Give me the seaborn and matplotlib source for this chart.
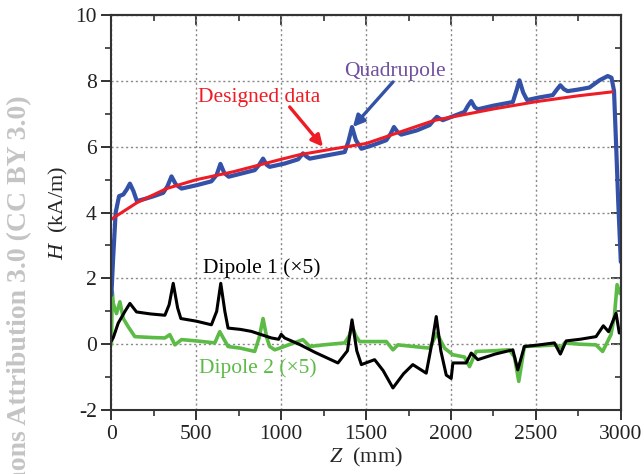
import numpy as np
import pandas as pd
import matplotlib
matplotlib.use('Agg')
import matplotlib.pyplot as plt
from matplotlib.ticker import MultipleLocator
import seaborn as sns

# Quadrupole field H (kA/m) along Z (mm)
quad_z = [0, 10, 25, 45, 70, 90, 109, 130, 150, 200, 250, 305, 330, 354, 380, 413, 500, 589,
          620, 642, 665, 691, 760, 844, 870, 893, 915, 932, 1020, 1100, 1128, 1150, 1168, 1250,
          1374, 1395, 1417, 1440, 1472, 1540, 1619, 1645, 1664, 1685, 1707, 1800, 1874, 1900,
          1917, 1935, 1952, 2079, 2100, 2119, 2140, 2158, 2250, 2364, 2385, 2403, 2425, 2448,
          2520, 2599, 2625, 2644, 2665, 2687, 2750, 2815, 2874, 2923, 2945, 2960, 2972, 2985, 3000]
quad_h = [1.5, 2.6, 4.0, 4.5, 4.55, 4.7, 4.88, 4.65, 4.35, 4.42, 4.5, 4.6, 4.8, 5.1, 4.85, 4.73,
          4.83, 4.95, 5.15, 5.48, 5.2, 5.09, 5.18, 5.29, 5.45, 5.64, 5.45, 5.39, 5.49, 5.62, 5.8,
          5.7, 5.64, 5.72, 5.84, 6.15, 6.6, 6.2, 5.94, 6.05, 6.2, 6.4, 6.6, 6.45, 6.37, 6.5, 6.66,
          6.82, 6.91, 6.85, 6.81, 7.06, 7.25, 7.39, 7.2, 7.14, 7.25, 7.36, 7.7, 8.02, 7.65, 7.42,
          7.5, 7.57, 7.75, 7.87, 7.75, 7.69, 7.74, 7.8, 8.02, 8.15, 8.1, 7.7, 6.1, 4.3, 2.5]

# Designed data
design_z = [0, 150, 325, 500, 717, 1000, 1109, 1300, 1500, 1700, 1900, 2000, 2250, 2500, 2750, 2950]
design_h = [3.8, 4.3, 4.73, 5.0, 5.24, 5.62, 5.76, 5.93, 6.1, 6.45, 6.8, 6.9, 7.15, 7.37, 7.55, 7.67]

# Dipole 1 (x5)
dip1_z = [0, 11, 40, 80, 109, 148, 230, 315, 340, 364, 390, 409, 500, 589, 620, 644, 668, 687,
          760, 824, 942, 985, 1000, 1020, 1109, 1200, 1334, 1390, 1417, 1445, 1472, 1550, 1600,
          1658, 1720, 1775, 1854, 1890, 1913, 1940, 1972, 2001, 2011, 2089, 2119, 2158, 2260,
          2364, 2393, 2432, 2520, 2609, 2644, 2678, 2760, 2854, 2897, 2928, 2972, 2991]
dip1_h = [0.1, 0.2, 0.64, 1.0, 1.24, 0.98, 0.92, 0.88, 1.2, 1.85, 1.1, 0.78, 0.7, 0.59, 1.0,
          1.85, 1.0, 0.49, 0.45, 0.39, 0.19, 0.15, 0.3, 0.19, -0.01, -0.25, -0.57, -0.2, 0.74,
          -0.2, -0.62, -0.47, -0.8, -1.33, -0.9, -0.62, -0.88, 0.1, 0.84, -0.2, -0.94, -1.04,
          -0.57, -0.57, -0.27, -0.47, -0.3, -0.17, -0.78, -0.07, -0.02, 0.04, -0.3, 0.1, 0.15,
          0.23, 0.56, 0.38, 0.94, 0.34]

# Dipole 2 (x5)
dip2_z = [0, 5, 11, 30, 50, 70, 99, 138, 250, 315, 344, 374, 413, 500, 609, 638, 687, 760, 844,
          870, 893, 915, 932, 962, 991, 1128, 1168, 1250, 1374, 1400, 1419, 1440, 1462, 1619,
          1658, 1687, 1874, 1917, 1962, 2011, 2079, 2109, 2148, 2250, 2344, 2374, 2399, 2432,
          2520, 2619, 2648, 2668, 2760, 2854, 2893, 2942, 2962, 2978, 2995]
dip2_h = [0.0, 1.6, 1.24, 0.93, 1.29, 0.78, 0.53, 0.23, 0.2, 0.19, 0.29, -0.02, 0.14, 0.1, 0.04,
          0.38, -0.07, -0.12, -0.22, 0.2, 0.78, 0.2, -0.07, -0.17, -0.12, 0.14, -0.07, -0.02,
          0.04, 0.25, 0.53, 0.25, 0.08, 0.08, -0.17, -0.02, -0.12, 0.33, -0.12, -0.32, -0.39,
          -0.68, -0.22, -0.2, -0.17, -0.39, -1.13, -0.07, -0.05, -0.02, -0.12, 0.04, 0.0, -0.02,
          -0.22, 0.29, 0.84, 1.81, 1.54]

sns.set_style('ticks')
plt.rcParams['font.family'] = ['Liberation Serif', 'DejaVu Serif']
plt.rcParams['mathtext.fontset'] = 'custom'
plt.rcParams['mathtext.it'] = 'Liberation Serif:italic'
plt.rcParams['mathtext.rm'] = 'Liberation Serif'
plt.rcParams['axes.unicode_minus'] = False

fig = plt.figure(figsize=(6.44, 4.74), dpi=100)
ax = fig.add_axes([0.173, 0.135, 0.791, 0.833])

blue = '#3451a8'
red = '#ee1c25'
green = '#5cbb46'

sns.lineplot(x=dip2_z, y=dip2_h, ax=ax, color=green, lw=2.6, sort=False, estimator=None)
sns.lineplot(x=dip1_z, y=dip1_h, ax=ax, color='black', lw=2.2, sort=False, estimator=None)
sns.lineplot(x=quad_z, y=quad_h, ax=ax, color=blue, lw=3.0, sort=False, estimator=None)
sns.lineplot(x=design_z, y=design_h, ax=ax, color=red, lw=2.2, sort=False, estimator=None)

ax.set_xlim(0, 3000)
ax.set_ylim(-2, 10)
ax.xaxis.set_major_locator(MultipleLocator(500))
ax.xaxis.set_minor_locator(MultipleLocator(250))
ax.yaxis.set_major_locator(MultipleLocator(2))
ax.yaxis.set_minor_locator(MultipleLocator(1))
ax.grid(True, which='major', linestyle=(0, (1.5, 2)), color='#888888', lw=1)
ax.tick_params(which='major', direction='out', length=7, width=1.3, labelsize=15.5, colors='#222222')
ax.tick_params(which='minor', direction='out', length=4, width=1.2, colors='#333333')
for s in ax.spines.values():
    s.set_linewidth(1.5)
    s.set_color('#333333')

# mirrored ticks on top and right, pointing in, no labels
top = ax.secondary_xaxis('top')
top.xaxis.set_major_locator(MultipleLocator(500))
top.xaxis.set_minor_locator(MultipleLocator(250))
top.tick_params(which='both', direction='in', labeltop=False, colors='#333333')
top.tick_params(which='major', length=7, width=1.3)
top.tick_params(which='minor', length=4, width=1.2)
right = ax.secondary_yaxis('right')
right.yaxis.set_major_locator(MultipleLocator(2))
right.yaxis.set_minor_locator(MultipleLocator(1))
right.tick_params(which='both', direction='in', labelright=False, colors='#333333')
right.tick_params(which='major', length=7, width=1.3)
right.tick_params(which='minor', length=4, width=1.2)
for sec in (top, right):
    for s in sec.spines.values():
        s.set_linewidth(1.5)
        s.set_color('#333333')

ax.set_xlabel('$Z$  (mm)', fontsize=16, labelpad=2)
ax.set_ylabel('$H$  (kA/m)', fontsize=16, labelpad=4)

ax.text(1668, 8.3, 'Quadrupole', color='#7050a0', fontsize=15.5, ha='center', va='center')
ax.annotate('', xy=(1422, 6.6), xytext=(1658, 7.97),
            arrowprops=dict(arrowstyle='-|>', color=blue, lw=2.4, mutation_scale=17,
                            shrinkA=0, shrinkB=0))
ax.text(869, 7.5, 'Designed data', color=red, fontsize=15.5, ha='center', va='center')
ax.annotate('', xy=(1246, 6.0), xytext=(1050, 7.21),
            arrowprops=dict(arrowstyle='-|>', color=red, lw=2.4, mutation_scale=17,
                            shrinkA=0, shrinkB=0))
ax.text(887, 2.31, 'Dipole 1 (×5)', color='black', fontsize=15.5, ha='center', va='center')
ax.text(862, -0.73, 'Dipole 2 (×5)', color=green, fontsize=15.5, ha='center', va='center')

fig.text(20 / 644, 1 - 95 / 474, 'Creative Commons Attribution 3.0 (CC BY 3.0)', rotation=90,
         ha='center', va='top', color='#c4c4c4', fontsize=20, fontweight='bold')

fig.savefig('out.png', dpi=100)
